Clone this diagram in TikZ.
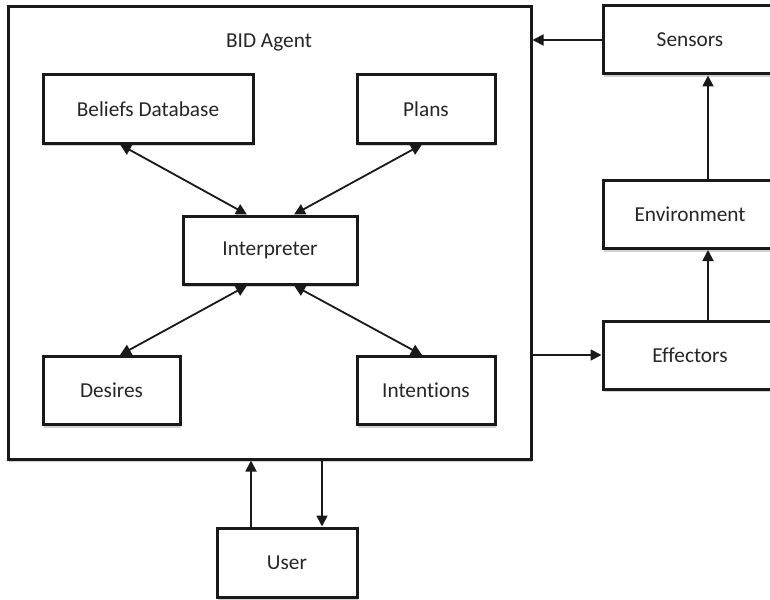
\documentclass[tikz,border=0pt]{standalone}
\usepackage{fontspec}
\setmainfont{Carlito}[RawFeature=-liga]
\usetikzlibrary{arrows.meta, shadows}

\begin{document}
\begin{tikzpicture}[x=1pt, y=-1pt,
    box/.style={draw=black!90, line width=3pt, fill=white, inner sep=0pt,
      minimum height=68pt, font=\fontsize{21.3}{25}\selectfont, text=black!85,
      drop shadow={shadow xshift=1pt, shadow yshift=-3pt, fill=black!18, opacity=1}},
    title/.style={font=\fontsize{21.3}{25}\selectfont, text=black!85},
    link/.style={line width=1.8pt, draw=black!90, -{Triangle[length=11pt,width=11pt]}},
    both/.style={link, {Triangle[length=11pt,width=11pt]}-{Triangle[length=11pt,width=11pt]}}]
  \useasboundingbox (0,0) rectangle (770,599);
  \clip (0,0) rectangle (770,599);

  % agent and its parts
  \node (agent) [box, minimum width=523pt, minimum height=452pt] at (269.5,233) {};
  \node (agentname) [title] at (269,42) {BID Agent};
  \node (beliefs) [box, minimum width=210pt] at (148,109) {Beliefs Database};
  \node (plans) [box, minimum width=138pt] at (426,109) {Plans};
  \node (interp) [box, minimum width=174pt] at (270,250) {Interpreter};
  \node (desires) [box, minimum width=137pt] at (111.5,390.5) {Desires};
  \node (intentions) [box, minimum width=138pt] at (426,390.5) {Intentions};

  % outside world
  \node (sensors) [box, minimum width=174pt] at (690,40) {Sensors};
  \node (env) [box, minimum width=174pt] at (690,214.5) {Environment};
  \node (effectors) [box, minimum width=174pt] at (690,355) {Effectors};
  \node (user) [box, minimum width=140pt, minimum height=69pt] at (287,562.5) {User};

  \draw [both] ([xshift=-28pt]beliefs.south) -- ([xshift=-23pt]interp.north);
  \draw [both] ([xshift=-4pt]plans.south) -- ([xshift=24pt]interp.north);
  \draw [both] ([xshift=8.5pt]desires.north) -- ([xshift=-23pt]interp.south);
  \draw [both] ([xshift=-4pt]intentions.north) -- ([xshift=24pt]interp.south);

  \draw [link] (sensors.west) -- (sensors.west -| agent.east);
  \draw [link] (effectors.west -| agent.east) -- (effectors.west);
  \draw [link] ([xshift=18pt]effectors.north) -- ([xshift=18pt]env.south);
  \draw [link] ([xshift=18pt]env.north) -- ([xshift=18pt]sensors.south);

  \coordinate (up) at ([xshift=-36pt]user.north);
  \coordinate (down) at ([xshift=35pt]user.north);
  \draw [link] (up) -- (up |- agent.south);
  \draw [link] (down |- agent.south) -- (down);
\end{tikzpicture}
\end{document}
